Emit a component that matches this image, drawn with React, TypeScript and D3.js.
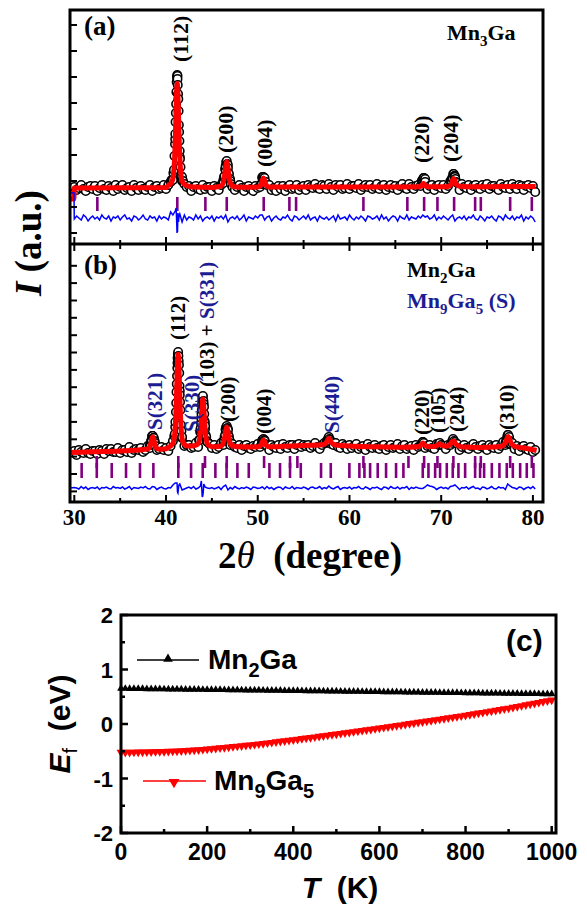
import React from 'react';
import * as d3 from 'd3';

const SERIF = '"Liberation Serif", "Times New Roman", Times, serif';
const SANS = '"Liberation Sans", Arial, Helvetica, sans-serif';
const NAVY = '#1c1c94';
const PURPLE = '#800080';

// sampling grid of the observed / difference patterns (2θ, degrees)
const GRID_START = 30;
const GRID_STEP = 0.25;

// ---------------- Panel (a): Mn3Ga ----------------
const obsA = [
  57,54,56,59,55,53,57,58,55,58, 53,56,59,55,54,58,56,53,59,55,
  57,59,54,56,57,53,59,56,54,58, 55,54,57,59,53,57,58,55,56,59,
  55,59,62,64,105,168,87,67,60,57, 58,53,57,58,55,54,59,55,57,57,
  53,58,56,54,59,64,74,76,63,57, 54,57,59,56,53,57,58,55,53,58,
  56,57,67,61,59,59,54,56,53,58, 55,58,53,57,59,55,56,59,54,57,
  58,54,59,57,56,60,56,55,59,58, 55,60,57,54,59,57,59,55,56,60,
  55,58,58,56,60,54,57,59,57,59, 55,57,60,55,58,59,54,57,59,56,
  58,54,58,60,56,55,60,57,55,58, 59,58,64,65,55,58,59,54,58,59,
  56,59,55,58,63,65,67,61,54,60, 57,56,59,54,58,59,56,55,59,57,
  60,55,58,58,56,54,60,57,56,59, 55,60,57,55,59,58,54,58,59,56,
  58,52,
];
const obsPeakA: [number, number][] = [
  [40.6,64],[40.7,64],[40.8,71],[40.86,74],[40.92,88],[40.98,100],[41.01,110],[41.04,122],[41.07,131],
  [41.1,140],[41.13,152],[41.16,162],[41.19,167],[41.22,169],[41.25,165],[41.28,159],[41.31,150],
  [41.34,145],[41.37,133],[41.4,119],[41.43,112],[41.46,103],[41.49,93],[41.52,85],[41.58,77],
  [41.64,68],[41.75,63],[41.85,63],
  [46.17,61],[46.26,61],[46.32,67],[46.38,68],[46.44,75],[46.5,78],[46.56,82],[46.62,83],[46.68,80],
  [46.74,79],[46.8,71],[46.86,70],[46.92,64],[46.98,65],[47.07,60],
  [50.38,60],[50.44,60],[50.5,66],[50.56,66],[50.62,67],[50.68,65],[50.74,66],[50.8,61],[50.86,62],
  [67.89,63],[67.95,64],[68.01,64],[68.07,66],[68.13,66],[68.19,63],[68.25,62],
  [71.13,63],[71.19,66],[71.25,66],[71.31,70],[71.37,70],[71.43,68],[71.49,68],[71.55,65],[71.61,62],
];
const calcA: [number, number][] = [
  [29.53,45],[29.96,45],[29.98,56],[30,56],[35,56.2],[40,56.4],[40.22,58.5],[40.52,60.5],[40.72,64.4],
  [40.82,70],[40.92,83.4],[40.97,94.4],[41.02,108.5],[41.07,124.9],[41.12,141.8],[41.17,155.3],
  [41.22,160.5],[41.27,155.3],[41.32,141.8],[41.37,124.9],[41.42,108.5],[41.47,94.4],[41.52,83.4],
  [41.62,70],[41.72,64.4],[41.92,60.5],[42.22,58.5],[43,57],[45,56.6],[45.62,57.1],[46.02,58.1],
  [46.22,60.8],[46.32,64.6],[46.42,71],[46.52,78.5],[46.62,82.5],[46.72,78.5],[46.82,71],[46.92,64.6],
  [47.02,60.8],[47.22,58.1],[47.62,57.1],[49,56.7],[50.02,57],[50.22,57.7],[50.32,59],[50.42,61.3],
  [50.52,64.3],[50.62,66],[50.72,64.3],[50.82,61.3],[50.92,59],[51.02,57.7],[51.22,57],[55,56.9],
  [60,57],[65,57],[67.57,57.2],[67.77,57.7],[67.87,58.5],[67.97,59.8],[68.07,60.5],[68.17,59.8],
  [68.27,58.5],[68.37,57.7],[68.57,57.3],[70,57.2],[70.77,57.6],[71.07,59.5],[71.17,61.5],[71.27,64.1],
  [71.37,65.5],[71.47,64.1],[71.57,61.5],[71.67,59.5],[71.97,57.8],[73,57.3],[75,57.3],[80,57.5],[80.3,57.5],
];
const diffA = [
  25,28,26,24,29,27,23,26,28,25, 27,24,29,26,25,28,23,27,26,28,
  24,27,29,25,26,23,28,27,24,26, 29,25,24,28,26,27,23,28,25,27,
  26,24,32,29,33,12,30,22,29,24, 27,26,24,29,25,28,23,26,27,25,
  28,23,27,26,28,25,29,22,26,27, 25,28,24,26,29,23,27,26,25,28,
  26,29,29,24,27,28,23,26,28,25, 24,27,26,29,25,23,28,27,24,26,
  28,25,29,24,26,27,23,28,26,25, 27,24,26,28,23,29,25,26,27,24,
  29,26,24,27,25,28,26,23,28,27, 25,26,28,24,29,25,27,23,26,28,
  27,23,28,26,25,29,24,27,26,25, 28,26,29,27,28,25,26,29,24,27,
  25,28,26,24,27,29,23,26,27,25, 28,24,27,26,29,25,24,28,26,23,
  27,26,28,25,23,28,27,24,29,26, 25,28,24,27,26,29,23,27,25,28,
  26,22,
];
const diffDetailA: [number, number][] = [
  [29.53,37],[29.53,51],[29.97,51],[29.99,27],
  [41.1,36],[41.17,20],[41.2,11],[41.23,15],[41.3,31],[41.36,22],[41.42,28],
];
const braggA = [32.51,41.23,44.29,46.62,50.65,53.45,54.18,61.52,66.31,68.14,69.59,71.41,73.70,74.32,77.52,79.88];
const hklA = [
  { text: '(112)', t: 41.53, I: 182 },
  { text: '(200)', t: 46.51, I: 91 },
  { text: '(004)', t: 50.69, I: 77 },
  { text: '(220)', t: 67.81, I: 81 },
  { text: '(204)', t: 70.97, I: 82 },
];

// ---------------- Panel (b): Mn2Ga + Mn9Ga5 ----------------
const obsB = [
  51,47,52,50,49,53,49,48,51,51, 48,52,51,48,53,51,53,50,50,54,
  49,52,52,50,55,49,52,53,52,54, 50,52,56,54,66,61,52,53,55,52,
  54,51,56,61,75,139,111,65,56,57, 57,54,55,59,55,72,105,73,60,58,
  54,57,53,55,59,57,72,72,57,58, 55,54,57,52,56,57,54,53,56,55,
  58,55,62,61,56,52,57,55,54,57, 53,58,55,54,57,57,53,57,58,55,
  57,56,57,54,56,59,55,53,57,59, 59,65,58,57,59,55,54,58,56,53,
  57,54,56,58,53,55,56,52,58,55, 54,57,54,53,56,57,52,55,57,54,
  55,58,53,56,57,53,55,56,52,57, 55,56,60,54,56,57,54,53,58,57,
  57,56,53,57,57,59,60,58,52,55, 57,54,53,56,58,55,53,56,57,54,
  52,57,55,54,57,53,56,60,57,67, 58,59,53,56,51,55,56,53,52,55,
  50,52,
];
const obsPeakB: [number, number][] = [
  [38.25,57],[38.31,57],[38.37,61],[38.43,62],[38.49,66],[38.55,66],[38.61,64],[38.67,64],[38.73,60],[38.79,59],[38.85,56],
  [40.9,66],[40.96,68],[41.02,80],[41.08,90],[41.11,99],[41.14,110],[41.17,118],[41.2,126],[41.23,134],[41.26,144],
  [41.29,148],[41.32,150],[41.35,146],[41.38,141],[41.41,137],[41.44,129],[41.47,116],[41.5,107],[41.53,100],
  [41.56,92],[41.62,77],[41.68,71],[41.74,64],
  [43.6,62],[43.66,62],[43.72,70],[43.78,74],[43.81,79],[43.84,84],[43.87,88],[43.9,92],[43.93,98],[43.96,103],
  [44.02,106],[44.08,101],[44.11,98],[44.14,95],[44.17,88],[44.2,81],[44.23,79],[44.26,76],[44.32,67],[44.38,65],[44.44,61],
  [46.26,61],[46.32,61],[46.38,65],[46.44,67],[46.5,73],[46.56,75],[46.62,76],[46.68,74],[46.74,73],[46.8,67],
  [46.86,65],[46.92,62],[46.98,59],
  [50.44,58],[50.5,61],[50.56,62],[50.62,63],[50.68,61],[50.74,62],[50.8,58],
  [57.5,60],[57.6,62],[57.7,64],[57.8,63],[57.9,62],[58.0,60],
  [67.9,58],[68.0,60],[68.1,59],[69.7,58],[69.85,59],[71.2,61],[71.3,63],[71.4,61],
  [77.0,59],[77.1,62],[77.2,65],[77.3,67],[77.4,65],[77.5,61],[77.6,58],
];
const calcB: [number, number][] = [
  [29.5,49.5],[32,50.2],[35,51],[37.55,52.5],[37.95,53],[38.15,54],[38.25,55.7],[38.35,58.8],[38.45,63],
  [38.55,65.3],[38.65,63],[38.75,58.8],[38.85,55.7],[38.95,54],[39.15,53],[39.55,52.8],[40,53.2],
  [40.32,55.1],[40.62,56.9],[40.82,60.5],[40.92,65.6],[41.02,77.8],[41.07,87.7],[41.12,100.6],[41.17,115.5],
  [41.22,130.8],[41.27,143.1],[41.32,147.8],[41.37,143.1],[41.42,130.8],[41.47,115.5],[41.52,100.6],
  [41.57,87.7],[41.62,77.8],[41.72,65.6],[41.82,60.5],[42.02,57.5],[42.32,56],[42.8,56],[43.3,57],
  [43.52,58.6],[43.62,60.8],[43.72,67.1],[43.77,72.2],[43.82,78.8],[43.87,86.4],[43.92,94.3],[43.97,100.6],
  [44.02,103],[44.07,100.6],[44.12,94.3],[44.17,86.4],[44.22,78.8],[44.27,72.2],[44.32,67.1],[44.42,60.8],
  [44.52,58.2],[44.72,56.3],[45.1,55.2],[45.62,55.5],[46.02,56.2],[46.22,58.3],[46.32,61.3],[46.42,66.1],
  [46.52,72],[46.62,75],[46.72,72],[46.82,66.1],[46.92,61.3],[47.02,58.3],[47.22,56.2],[47.62,55.5],
  [49,55],[50.02,55.3],[50.22,55.9],[50.32,56.8],[50.42,58.5],[50.52,60.7],[50.62,62],[50.72,60.7],
  [50.82,58.5],[50.92,56.8],[51.02,55.9],[51.22,55.3],[53,55.8],[55,56.5],[57,57.2],[57.25,57.8],
  [57.45,59.3],[57.6,61.5],[57.75,63.7],[57.9,61.5],[58.05,59.3],[58.25,57.8],[58.5,57],[60,56],
  [63,55.2],[66,54.8],[67.4,55.3],[67.7,56.2],[67.85,57.6],[68,59],[68.15,57.6],[68.3,56.2],[68.6,55.5],
  [69.3,55.6],[69.6,57],[69.8,58],[70,57],[70.3,56],[70.8,56.3],[71,58],[71.15,60],[71.3,61],[71.45,60],
  [71.6,58],[71.9,56],[72.4,55],[74,54.6],[76.5,55.5],[76.8,57],[77,59.5],[77.15,63],[77.3,65.5],
  [77.45,63],[77.6,59.5],[77.8,57],[78.1,55.5],[78.5,54.6],[79.3,53.5],[80,52.3],[80.4,51.5],
];
const diffB = [
  14.5,14,13,15.5,13.5,15,12.5,14,14.5,13.5, 15,12.5,14.5,14,15,13.5,13,15.5,14,14.5,
  13.5,15,13,14,15.5,12.5,14.5,14,13.5,15, 14,15.5,13.5,13,15.5,15,12.5,14,15,13.5,
  13,14.5,14,17,19,10,18,12,13,14, 15,13.5,15.5,13,14,16,6,15,14,13.5,
  14.5,13,14,15,12.5,15.5,17,12,14.5,13, 15.5,14,13,14.5,13.5,15,14,12.5,15,14.5,
  13.5,14,15,13,15.5,13.5,14.5,12.5,14,15, 14.5,12.5,15,14,13.5,15.5,13,14.5,14,13.5,
  15,14,12.5,14.5,15,13.5,14,15.5,13,14.5, 13.5,16,14,13,14.5,15.5,12.5,14,14.5,13.5,
  15,13,14.5,14,15.5,13.5,13,15,14,12.5, 14.5,14,15,13.5,12.5,15,14.5,13,15.5,14,
  13.5,15,13,14.5,14,15.5,12.5,14.5,13.5,15, 14,13.5,13.5,15,17,16,15.5,14.5,12.5,14,
  15,13.5,14.5,13,15.5,16,17,15,12.5,14.5, 14,15,13,14.5,15.5,13.5,14,12.5,15,14.5,
  13,14,15.5,13.5,13,15,14,14.5,12.5,18, 16,14.5,14,13,15,14.5,12.5,14,15,13.5,
  15.5,13,
];
const diffDetailB: [number, number][] = [
  [29.55,14],[41.2,19],[41.3,9],[41.4,17],[43.85,21],[43.95,5],[44.05,9],[44.12,18],
];
const braggMn2Ga = [32.45,41.34,44.25,46.62,50.69,53.52,54.32,61.52,66.43,68.14,69.59,71.33,73.70,74.32,77.52,79.88];
const braggMn9Ga5 = [
  30.80,32.45,34.08,35.64,37.16,38.62,41.34,42.73,44.00,45.38,46.60,47.78,49.02,51.27,52.43,53.52,54.69,
  56.90,57.96,59.99,61.08,61.63,62.25,63.08,63.99,65.08,65.88,67.99,68.61,69.34,69.88,70.61,71.26,71.88,
  72.61,73.70,74.24,74.68,75.52,76.35,77.15,77.81,78.61,79.33,80.06,
];
const hklB = [
  { text: 'S(321)', t: 38.8, I: 72, s: true },
  { text: '(112)', t: 41.34, I: 162, s: false },
  { text: 'S(330)', t: 42.8, I: 70, s: true },
  { text: '(200)', t: 46.8, I: 80, s: false },
  { text: '(004)', t: 50.69, I: 68, s: false },
  { text: 'S(440)', t: 58.07, I: 69, s: true },
  { text: '(220)', t: 67.88, I: 67, s: false },
  { text: '(105)', t: 69.7, I: 69, s: false },
  { text: '(204)', t: 71.7, I: 70, s: false },
  { text: '(310)', t: 77.15, I: 72, s: false },
];

const xTicksMajor = [30, 40, 50, 60, 70, 80];
const xTicksMinor = [35, 45, 55, 65, 75];
const yTicksA = [11, 37, 63, 89, 115, 141, 167, 193, 219];
const yTicksB = [10.6, 28, 45.4, 62.7, 80.1, 97.4, 114.8, 132.1, 149.5, 166.8, 184.2, 201.5, 218.9, 236.2];

// ---------------- Panel (c): Fermi level vs T ----------------
const tempStep = 10;
const efMn2Ga = [
  0.650,0.649,0.648,0.647,0.646,0.645,0.644,0.643,0.642,0.641,
  0.640,0.639,0.638,0.637,0.636,0.635,0.634,0.633,0.632,0.631,
  0.630,0.629,0.628,0.627,0.626,0.625,0.624,0.623,0.622,0.621,
  0.620,0.619,0.618,0.617,0.616,0.615,0.614,0.613,0.612,0.611,
  0.610,0.609,0.608,0.607,0.606,0.605,0.604,0.603,0.602,0.601,
  0.600,0.599,0.598,0.597,0.596,0.595,0.594,0.593,0.592,0.591,
  0.590,0.589,0.588,0.587,0.586,0.585,0.584,0.583,0.582,0.581,
  0.580,0.579,0.578,0.577,0.576,0.575,0.574,0.573,0.572,0.571,
  0.570,0.569,0.568,0.567,0.566,0.565,0.564,0.563,0.562,0.561,
  0.560,0.559,0.558,0.557,0.556,0.555,0.554,0.553,0.552,0.551,
  0.550,
];
const efMn9Ga5 = [
  -0.520,-0.520,-0.519,-0.518,-0.517,-0.515,-0.513,-0.511,-0.509,-0.507,
  -0.505,-0.502,-0.499,-0.496,-0.492,-0.488,-0.484,-0.479,-0.474,-0.467,
  -0.460,-0.453,-0.446,-0.439,-0.432,-0.424,-0.416,-0.408,-0.401,-0.393,
  -0.385,-0.376,-0.367,-0.358,-0.348,-0.339,-0.329,-0.319,-0.309,-0.300,
  -0.290,-0.280,-0.269,-0.259,-0.248,-0.238,-0.227,-0.217,-0.206,-0.196,
  -0.185,-0.174,-0.163,-0.152,-0.141,-0.130,-0.119,-0.108,-0.097,-0.086,
  -0.075,-0.064,-0.052,-0.041,-0.029,-0.018,-0.006,0.006,0.017,0.029,
  0.040,0.052,0.064,0.076,0.088,0.100,0.112,0.124,0.136,0.148,
  0.160,0.173,0.186,0.199,0.212,0.225,0.238,0.251,0.264,0.277,
  0.290,0.305,0.320,0.335,0.350,0.365,0.380,0.395,0.410,0.425,
  0.440,
];
const cTicksX = [0, 200, 400, 600, 800, 1000];
const cTicksXMinor = [100, 300, 500, 700, 900];
const cTicksY = [-2, -1, 0, 1, 2];
const cTicksYMinor = [-1.5, -0.5, 0.5, 1.5];

type P = [number, number];

export default function App() {
  const x = d3.scaleLinear().domain([29.53, 81.1]).range([70, 543]);
  const yA = d3.scaleLinear().domain([0, 234]).range([244, 10]);
  const yB = d3.scaleLinear().domain([0, 258]).range([502, 244]);

  const grid = (vals: number[]): P[] => vals.map((v, i) => [GRID_START + i * GRID_STEP, v] as P);
  const byT = (a: P, b: P) => a[0] - b[0];

  const obsPtsA = [...grid(obsA), ...obsPeakA].sort(byT);
  const obsPtsB = [...grid(obsB), ...obsPeakB].sort(byT);
  const diffPtsA = [...grid(diffA), ...diffDetailA].sort(byT);
  const diffPtsB = [...grid(diffB), ...diffDetailB].sort(byT);

  const mk = (y: d3.ScaleLinear<number, number>, curve: d3.CurveFactory) =>
    d3.line<P>().x(d => x(d[0])).y(d => y(d[1])).curve(curve);

  const calcPathA = mk(yA, d3.curveMonotoneX)(calcA) || '';
  const calcPathB = mk(yB, d3.curveMonotoneX)(calcB) || '';
  const diffPathA = mk(yA, d3.curveLinear)(diffPtsA) || '';
  const diffPathB = mk(yB, d3.curveLinear)(diffPtsB) || '';

  // panel (c)
  const xC = d3.scaleLinear().domain([0, 1010]).range([121, 556]);
  const yC = d3.scaleLinear().domain([-2, 2]).range([833, 615]);
  const ptsMn2Ga: P[] = efMn2Ga.map((v, i) => [i * tempStep, v] as P);
  const ptsMn9Ga5: P[] = efMn9Ga5.map((v, i) => [i * tempStep, v] as P);
  const lineC = d3.line<P>().x(d => xC(d[0])).y(d => yC(d[1]));
  const triUp = d3.symbol().type(d3.symbolTriangle).size(26)() || '';
  const triUpBig = d3.symbol().type(d3.symbolTriangle).size(40)() || '';
  const triDown = d3.symbol().type(d3.symbolTriangle).size(34)() || '';
  const triDownBig = d3.symbol().type(d3.symbolTriangle).size(50)() || '';

  const vLabel = (key: string, px: number, py: number, size: number, content: React.ReactNode, fill = '#000') => (
    <text key={key} transform={`translate(${px},${py}) rotate(-90)`} fontFamily={SERIF} fontWeight="bold"
      fontSize={size} dominantBaseline="central" fill={fill}>{content}</text>
  );

  return (
    <svg width={587} height={905} style={{ position: 'absolute', left: 0, top: 0, background: '#fff' }}>
      <rect x={0} y={0} width={587} height={905} fill="#fff" />

      {/* ---------- panel (a) data ---------- */}
      <g>
        {obsPtsA.map((d, i) => (
          <circle key={'oa' + i} cx={x(d[0])} cy={yA(d[1])} r={4.2} fill="#fff" stroke="#000" strokeWidth={1.6} />
        ))}
        <path d={calcPathA} fill="none" stroke="#ff0000" strokeWidth={5} strokeLinejoin="round" />
        {braggA.map((t, i) => (
          <line key={'ba' + i} x1={x(t)} x2={x(t)} y1={yA(47)} y2={yA(33)} stroke={PURPLE} strokeWidth={2.6} />
        ))}
        <path d={diffPathA} fill="none" stroke="#0000ff" strokeWidth={1.5} />
      </g>

      {/* ---------- panel (b) data ---------- */}
      <g>
        {obsPtsB.map((d, i) => (
          <circle key={'ob' + i} cx={x(d[0])} cy={yB(d[1])} r={4.2} fill="#fff" stroke="#000" strokeWidth={1.6} />
        ))}
        <path d={calcPathB} fill="none" stroke="#ff0000" strokeWidth={5} strokeLinejoin="round" />
        {braggMn2Ga.map((t, i) => (
          <line key={'b1' + i} x1={x(t)} x2={x(t)} y1={yB(46)} y2={yB(34)} stroke={PURPLE} strokeWidth={2.6} />
        ))}
        {braggMn9Ga5.map((t, i) => (
          <line key={'b2' + i} x1={x(t)} x2={x(t)} y1={yB(39)} y2={yB(24)} stroke={PURPLE} strokeWidth={2.6} />
        ))}
        <path d={diffPathB} fill="none" stroke="#0000ff" strokeWidth={1.5} />
      </g>

      {/* ---------- frame of XRD figure ---------- */}
      <rect x={70} y={10} width={473} height={492} fill="none" stroke="#000" strokeWidth={3} />
      <line x1={70} x2={543} y1={244} y2={244} stroke="#000" strokeWidth={3} />
      {xTicksMajor.map(t => (
        <g key={'xm' + t}>
          <line x1={x(t)} x2={x(t)} y1={244} y2={237} stroke="#000" strokeWidth={2} />
          <line x1={x(t)} x2={x(t)} y1={244} y2={251} stroke="#000" strokeWidth={2} />
          <line x1={x(t)} x2={x(t)} y1={502} y2={495} stroke="#000" strokeWidth={2} />
          <text x={x(t)} y={525} textAnchor="middle" fontFamily={SERIF} fontWeight="bold" fontSize={23}>{t}</text>
        </g>
      ))}
      {xTicksMinor.map(t => (
        <g key={'xn' + t}>
          <line x1={x(t)} x2={x(t)} y1={244} y2={240} stroke="#000" strokeWidth={2} />
          <line x1={x(t)} x2={x(t)} y1={244} y2={249} stroke="#000" strokeWidth={2} />
          <line x1={x(t)} x2={x(t)} y1={502} y2={498} stroke="#000" strokeWidth={2} />
        </g>
      ))}
      {yTicksA.map((v, i) => (
        <line key={'ya' + i} x1={70} x2={77} y1={yA(v)} y2={yA(v)} stroke="#000" strokeWidth={2} />
      ))}
      {yTicksB.map((v, i) => (
        <line key={'yb' + i} x1={70} x2={77} y1={yB(v)} y2={yB(v)} stroke="#000" strokeWidth={2} />
      ))}

      {/* panel labels */}
      <text x={84} y={35} fontFamily={SERIF} fontWeight="bold" fontSize={27}>(a)</text>
      <text x={84} y={274} fontFamily={SERIF} fontWeight="bold" fontSize={27}>(b)</text>
      <text x={447} y={40} fontFamily={SERIF} fontWeight="bold" fontSize={22}>
        Mn<tspan fontSize={15} dy={6}>3</tspan><tspan dy={-6}>Ga</tspan>
      </text>
      <text x={407} y={277} fontFamily={SERIF} fontWeight="bold" fontSize={22}>
        Mn<tspan fontSize={15} dy={6}>2</tspan><tspan dy={-6}>Ga</tspan>
      </text>
      <text x={407} y={308} fontFamily={SERIF} fontWeight="bold" fontSize={22} fill={NAVY}>
        Mn<tspan fontSize={15} dy={6}>9</tspan><tspan dy={-6}>Ga</tspan><tspan fontSize={15} dy={6}>5</tspan><tspan dy={-6}>{'\u00a0(S)'}</tspan>
      </text>

      {/* hkl labels */}
      {hklA.map(l => vLabel('ha' + l.text, x(l.t), yA(l.I), 22, l.text))}
      {hklB.map(l => vLabel('hb' + l.text, x(l.t), yB(l.I), 21, l.text, l.s ? NAVY : '#000'))}
      {vLabel('hb103', x(44.44), yB(115), 21, (
        <>
          <tspan fill="#000">{'(103) +\u00a0'}</tspan>
          <tspan fill={NAVY}>S(331)</tspan>
        </>
      ))}

      {/* axis titles */}
      <text transform="translate(41,243) rotate(-90)" textAnchor="middle" fontFamily={SERIF} fontWeight="bold" fontSize={37}>
        <tspan fontStyle="italic">I</tspan>{'\u00a0(a.u.)'}
      </text>
      <text x={310} y={568} textAnchor="middle" fontFamily={SERIF} fontSize={37}>
        <tspan fontWeight="bold">2</tspan><tspan fontStyle="italic">θ</tspan><tspan fontWeight="bold">{'\u00a0\u00a0(degree)'}</tspan>
      </text>

      {/* ---------- panel (c) ---------- */}
      <path d={lineC(ptsMn2Ga) || ''} fill="none" stroke="#000" strokeWidth={1.5} />
      {ptsMn2Ga.map((d, i) => (
        <path key={'m2' + i} d={triUp} transform={`translate(${xC(d[0])},${yC(d[1])})`} fill="#000" />
      ))}
      <path d={lineC(ptsMn9Ga5) || ''} fill="none" stroke="#ff0000" strokeWidth={1.5} />
      {ptsMn9Ga5.map((d, i) => (
        <path key={'m9' + i} d={triDown} transform={`translate(${xC(d[0])},${yC(d[1])}) rotate(180)`} fill="#ff0000" />
      ))}

      <rect x={121} y={615} width={435} height={218} fill="none" stroke="#000" strokeWidth={3} />
      {cTicksX.map(v => (
        <g key={'cx' + v}>
          <line x1={xC(v)} x2={xC(v)} y1={833} y2={826} stroke="#000" strokeWidth={2.5} />
          <text x={xC(v)} y={860} textAnchor="middle" fontFamily={SANS} fontWeight="bold" fontSize={23}>{v}</text>
        </g>
      ))}
      {cTicksXMinor.map(v => (
        <line key={'cxm' + v} x1={xC(v)} x2={xC(v)} y1={833} y2={829} stroke="#000" strokeWidth={2.5} />
      ))}
      {cTicksY.map(v => (
        <g key={'cy' + v}>
          <line x1={121} x2={128} y1={yC(v)} y2={yC(v)} stroke="#000" strokeWidth={2.5} />
          <text x={113} y={yC(v) + 8} textAnchor="end" fontFamily={SANS} fontWeight="bold" fontSize={22}>{v}</text>
        </g>
      ))}
      {cTicksYMinor.map(v => (
        <line key={'cym' + v} x1={121} x2={125} y1={yC(v)} y2={yC(v)} stroke="#000" strokeWidth={2.5} />
      ))}

      {/* legend */}
      <line x1={137} x2={199} y1={660} y2={660} stroke="#000" strokeWidth={1.5} />
      <path d={triUpBig} transform="translate(168,659)" fill="#000" />
      <text x={208} y={669} fontFamily={SANS} fontWeight="bold" fontSize={28}>
        Mn<tspan fontSize={20} dy={8}>2</tspan><tspan dy={-8}>Ga</tspan>
      </text>
      <line x1={143} x2={206} y1={781} y2={781} stroke="#ff0000" strokeWidth={1.5} />
      <path d={triDownBig} transform="translate(174,782) rotate(180)" fill="#ff0000" />
      <text x={214} y={790} fontFamily={SANS} fontWeight="bold" fontSize={28}>
        Mn<tspan fontSize={20} dy={8}>9</tspan><tspan dy={-8}>Ga</tspan><tspan fontSize={20} dy={8}>5</tspan>
      </text>
      <text x={506} y={651} fontFamily={SANS} fontWeight="bold" fontSize={30}>(c)</text>

      {/* axis titles (c) */}
      <text transform="translate(70,724) rotate(-90)" textAnchor="middle" fontFamily={SANS} fontWeight="bold" fontSize={30}>
        <tspan fontStyle="italic">E</tspan><tspan fontSize={20} fontWeight="normal" dy={7}>f</tspan><tspan dy={-7}>{'\u00a0\u00a0(eV)'}</tspan>
      </text>
      <text x={340} y={898} textAnchor="middle" fontFamily={SANS} fontWeight="bold" fontSize={30}>
        <tspan fontStyle="italic">T</tspan>{'\u00a0\u00a0(K)'}
      </text>
    </svg>
  );
}
